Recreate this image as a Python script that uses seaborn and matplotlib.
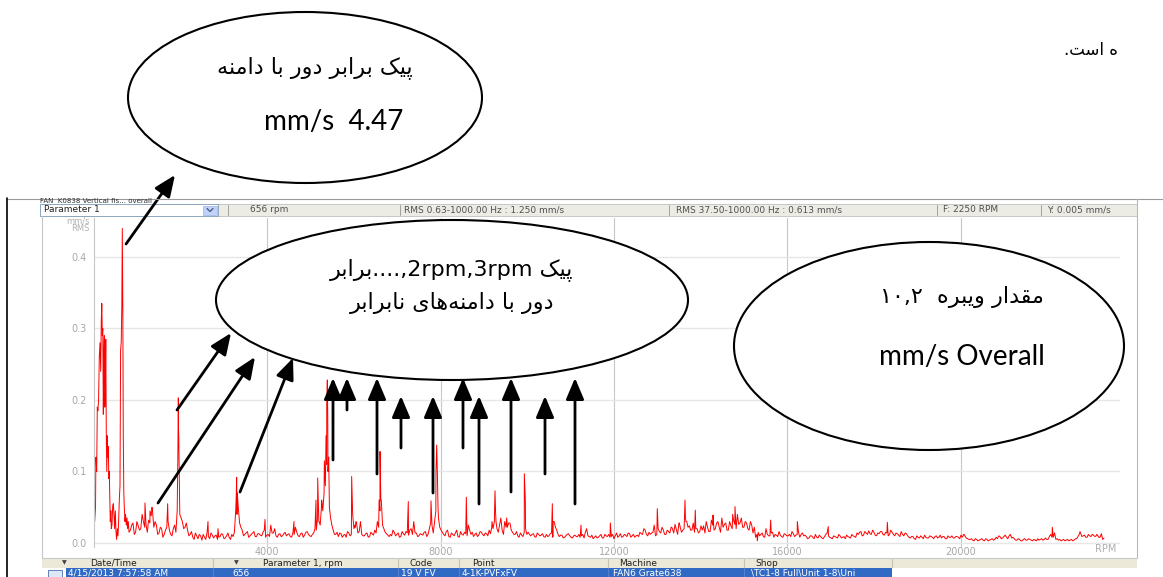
import numpy as np
import pandas as pd
import matplotlib
matplotlib.use("Agg")
import matplotlib.pyplot as plt
from matplotlib.patches import Ellipse, Rectangle, FancyArrowPatch
import seaborn as sns

# --- spectrum data (rpm, mm/s RMS) ---
# first orders, fine detail
low_rpm = [0, 16, 35, 44, 62, 76, 90, 106, 122, 138, 155, 168, 180, 192, 203, 215, 226, 238, 249, 261,
           272, 284, 295, 307, 318, 330, 342, 353, 365, 376, 388, 399, 415, 430, 445, 461, 475, 492, 508, 522,
           538, 554, 568, 584, 600, 614, 628, 642, 653, 665, 676, 688, 699, 715, 729, 745, 762, 775, 791, 808]
low_amp = [0.043, 0.030, 0.050, 0.120, 0.100, 0.190, 0.185, 0.200, 0.260, 0.280,
           0.240, 0.310, 0.335, 0.290, 0.300, 0.180, 0.260, 0.290, 0.190, 0.210,
           0.285, 0.150, 0.100, 0.150, 0.120, 0.135, 0.090, 0.100, 0.060, 0.030,
           0.045, 0.020, 0.025, 0.050, 0.055, 0.040, 0.020, 0.045, 0.015, 0.005,
           0.020, 0.010, 0.030, 0.060, 0.080, 0.270, 0.280, 0.330, 0.440, 0.330,
           0.150, 0.070, 0.050, 0.030, 0.040, 0.025, 0.035, 0.020, 0.030, 0.015]

# noise floor, one value every 60 rpm from 840 rpm (x 0.001 mm/s)
floor_start = 840
floor_step = 60
floor_milli = [
    18, 28, 15, 24, 20, 30, 26, 32, 38, 22, 25, 14, 20, 12, 22, 18, 10, 25, 45, 40,
    30, 22, 18, 12, 8, 14, 6, 10, 12, 5, 9, 14, 7, 11, 8, 13, 6, 10, 8, 12,
    15, 40, 28, 18, 12, 16, 10, 14, 9, 13, 11, 15, 8, 12, 25, 14, 10, 12, 9, 13,
    10, 13, 8, 12, 15, 9, 14, 11, 16, 10, 12, 20, 35, 25, 45, 80, 100, 35, 18, 12,
    9, 13, 11, 8, 14, 12, 20, 28, 16, 12, 10, 14, 9, 13, 18, 30, 45, 25, 15, 11,
    12, 18, 10, 14, 9, 13, 16, 11, 20, 30, 14, 10, 12, 15, 9, 20, 25, 30, 110, 22,
    15, 10, 18, 8, 12, 14, 9, 16, 11, 13, 25, 12, 9, 14, 11, 15, 10, 13, 18, 22,
    30, 20, 25, 18, 30, 22, 28, 15, 12, 10, 14, 9, 20, 15, 10, 13, 8, 12, 11, 9,
    12, 10, 14, 30, 18, 9, 11, 8, 12, 10, 7, 11, 9, 8, 12, 15, 10, 8, 6, 10,
    8, 12, 7, 10, 12, 9, 6, 14, 10, 8, 12, 9, 13, 10, 8, 11, 15, 12, 18, 10,
    12, 15, 10, 20, 14, 18, 12, 16, 22, 14, 19, 28, 15, 20, 30, 24, 18, 15, 20, 16,
    18, 14, 22, 16, 25, 20, 30, 15, 22, 28, 18, 24, 32, 20, 26, 35, 22, 28, 18, 25,
    22, 12, 10, 14, 8, 12, 10, 15, 12, 9, 11, 8, 12, 10, 9, 13, 11, 15, 12, 10,
    9, 7, 10, 6, 8, 11, 7, 9, 14, 8, 6, 9, 7, 10, 8, 6, 9, 7, 10, 8,
    12, 16, 11, 14, 17, 12, 15, 10, 13, 16, 11, 14, 12, 15, 10, 13, 9, 12, 14, 10,
    7, 9, 5, 8, 10, 6, 8, 7, 9, 6, 10, 8, 7, 9, 6, 8, 10, 7, 9, 6,
    8, 10, 6, 5, 4, 6, 3, 5, 4, 6, 3, 5, 4, 8, 10, 6, 9, 8, 10, 7,
    6, 4, 5, 3, 6, 4, 5, 3, 4, 6, 5, 4, 7, 5, 12, 8, 5, 4, 3, 5,
    4, 3, 5, 4, 6, 12, 9, 11, 8, 10, 12, 9, 11, 8, 5,
]
# in-between floor samples, 30 rpm after each of the above (x 0.001 mm/s)
mid_milli = [
    25, 12, 30, 18, 40, 22, 15, 28, 45, 30, 12, 22, 8, 18, 30, 12, 20, 15, 160, 35,
    20, 28, 10, 16, 5, 10, 12, 4, 8, 15, 6, 11, 10, 5, 9, 12, 7, 14, 5, 9,
    45, 50, 22, 10, 14, 8, 12, 16, 9, 13, 10, 18, 11, 9, 14, 20, 8, 13, 10, 15,
    12, 9, 14, 22, 10, 13, 8, 15, 12, 9, 14, 18, 30, 50, 70, 110, 60, 25, 12, 15,
    14, 8, 12, 16, 10, 40, 22, 14, 30, 10, 13, 8, 15, 11, 14, 22, 60, 20, 13, 9,
    10, 15, 12, 8, 16, 11, 14, 18, 12, 14, 9, 13, 11, 16, 12, 28, 14, 45, 35, 18,
    12, 16, 9, 14, 10, 18, 8, 12, 15, 10, 18, 15, 12, 9, 16, 12, 14, 10, 13, 20,
    40, 15, 35, 12, 22, 28, 18, 12, 16, 8, 11, 15, 12, 12, 12, 9, 14, 10, 13, 8,
    9, 13, 8, 22, 12, 11, 7, 10, 13, 8, 10, 9, 12, 10, 7, 20, 9, 11, 8, 7,
    10, 7, 12, 9, 8, 12, 10, 8, 13, 9, 11, 14, 8, 12, 10, 9, 13, 20, 12, 15,
    14, 25, 12, 16, 22, 12, 18, 14, 20, 26, 12, 22, 18, 35, 22, 18, 28, 20, 14, 24,
    24, 30, 16, 32, 18, 28, 22, 35, 26, 18, 30, 20, 26, 40, 28, 22, 30, 20, 30, 14,
    8, 15, 12, 9, 20, 10, 14, 8, 11, 16, 9, 13, 10, 12, 16, 9, 12, 8, 14, 11,
    6, 10, 8, 12, 7, 9, 6, 12, 10, 7, 10, 8, 12, 7, 9, 11, 8, 12, 9, 14,
    15, 10, 16, 12, 13, 18, 11, 14, 16, 12, 15, 10, 18, 12, 14, 11, 16, 10, 13, 8,
    9, 6, 10, 7, 8, 11, 7, 10, 8, 9, 7, 11, 9, 6, 10, 8, 7, 9, 8, 11,
    12, 7, 5, 6, 3, 5, 4, 6, 3, 5, 4, 6, 5, 6, 9, 7, 11, 6, 12, 8,
    4, 6, 3, 5, 4, 6, 4, 5, 3, 4, 6, 5, 5, 9, 8, 14, 6, 5, 4, 3,
    5, 4, 3, 6, 9, 14, 10, 8, 12, 9, 11, 10, 8, 13, 7,
]

# narrow harmonic spikes (rpm, x 0.001 mm/s)
peak_rpm = [1177, 1292, 1339, 1700, 1935, 1946, 1956, 2631, 2862, 3280, 3293, 3308, 3947, 4616,
            5124, 5163, 5195, 5255, 5316, 5355, 5372, 5385, 5395, 5417, 5433,
            5947, 5966, 6024, 6047, 6580, 6601, 6620, 7254, 7778, 7893, 7909, 7924, 7940,
            8593, 9186, 9255, 9278, 9525, 9932, 9955, 10578, 10594, 11240, 11917,
            13001, 13333, 13509, 13640, 13663, 13878, 14286, 14741, 14794, 15310,
            15618, 16232, 16947, 18310, 20080, 22118, 22757, 23142]
peak_milli = [56, 45, 50, 55, 120, 203, 150, 30, 20, 60, 92, 70, 33, 30,
              60, 91, 30, 60, 115, 150, 200, 228, 180, 120, 50,
              93, 50, 25, 30, 60, 128, 60, 58, 59, 100, 137, 100, 50,
              64, 30, 73, 30, 35, 97, 60, 55, 30, 25, 28,
              48, 22, 28, 60, 30, 46, 39, 40, 51, 3,
              32, 30, 23, 29, 12, 22, 16, 12]

x_ticks = [4000, 8000, 12000, 16000, 20000]
y_ticks = [0.0, 0.1, 0.2, 0.3, 0.4]

header_items = ["656 rpm", "RMS 0.63-1000.00 Hz : 1.250 mm/s",
                "RMS 37.50-1000.00 Hz : 0.613 mm/s", "F: 2250 RPM", "Y: 0.005 mm/s"]
table_head = ["Date/Time", "Parameter 1, rpm", "Code", "Point", "Machine", "Shop"]
table_row = ["4/15/2013 7:57:58 AM", "656", "19 V FV", "4-1K-PVFxFV", "FAN6 Grate638",
             "\\TC1-8 Full\\Unit 1-8\\Uni"]

# --- Persian shaping (presentation forms: isolated, final, initial, medial) ---
FORMS = {
    "\u0627": "\ufe8d\ufe8e", "\u062f": "\ufea9\ufeaa", "\u0631": "\ufead\ufeae", "\u0648": "\ufeed\ufeee",
    "\u0628": "\ufe8f\ufe90\ufe91\ufe92", "\u062a": "\ufe95\ufe96\ufe97\ufe98",
    "\u0633": "\ufeb1\ufeb2\ufeb3\ufeb4", "\u0642": "\ufed5\ufed6\ufed7\ufed8",
    "\u0645": "\ufee1\ufee2\ufee3\ufee4", "\u0646": "\ufee5\ufee6\ufee7\ufee8",
    "\u0647": "\ufee9\ufeea\ufeeb\ufeec", "\u067e": "\ufb56\ufb57\ufb58\ufb59",
    "\u06a9": "\ufb8e\ufb8f\ufb90\ufb91", "\u06cc": "\ufbfc\ufbfd\ufbfe\ufbff",
}


def fa(text):
    out = []
    for i, ch in enumerate(text):
        if ch not in FORMS:
            if ch != "\u200c":
                out.append(ch)
            continue
        prev = text[i - 1] if i else ""
        nxt = text[i + 1] if i + 1 < len(text) else ""
        f = FORMS[ch]
        join_prev = prev in FORMS and len(FORMS[prev]) == 4
        join_next = len(f) == 4 and nxt in FORMS
        out.append(f[int(join_prev) + 2 * int(join_next)])
    return "".join(reversed(out))


# --- build spectrum table ---
floor_rpm = floor_start + floor_step * np.arange(len(floor_milli))
mid_rpm = floor_rpm[:len(mid_milli)] + floor_step // 2
spec = pd.DataFrame({
    "rpm": np.concatenate([low_rpm, floor_rpm, mid_rpm, peak_rpm]),
    "amp": np.concatenate([low_amp, np.array(floor_milli) / 1000, np.array(mid_milli) / 1000,
                           np.array(peak_milli) / 1000]),
}).sort_values("rpm")

sns.set_theme(style="white")
plt.rcParams["font.family"] = ["DejaVu Sans"]

W, H = 1163, 577
fig = plt.figure(figsize=(W / 100, H / 100), dpi=100)
fig.patch.set_facecolor("white")

ax = fig.add_axes([94 / W, 1 - 547 / H, (1120 - 94) / W, (547 - 218) / H])
sns.lineplot(data=spec, x="rpm", y="amp", ax=ax, color="#ff0000", lw=0.7,
             estimator=None, sort=False)
ax.set_xlim(0, 23680)
ax.set_ylim(-0.0056, 0.4545)
ax.set_xticks(x_ticks)
ax.set_xticklabels([str(t) for t in x_ticks])
ax.set_yticks(y_ticks)
ax.set_yticklabels([f"{t:.1f}" for t in y_ticks])
ax.set_xlabel("")
ax.set_ylabel("")
ax.tick_params(length=0, labelsize=7, labelcolor="#a8a8a8")
ax.tick_params(axis="y", pad=5)
ax.tick_params(axis="x", pad=0)
ax.xaxis.grid(True, color="#c8c8c8", lw=0.8)
ax.yaxis.grid(True, color="#e6e6e6", lw=1.0)
ax.set_axisbelow(True)
for s in ["top", "right", "bottom"]:
    ax.spines[s].set_visible(False)
ax.spines["left"].set_color("#c8c8c8")
ax.spines["left"].set_linewidth(0.8)

# --- overlay in pixel coordinates: frame, header, table, notes ---
ov = fig.add_axes([0, 0, 1, 1], zorder=3)
ov.set_xlim(0, W)
ov.set_ylim(H, 0)
ov.axis("off")

ov.plot([7, W], [198.5, 198.5], color="#9a9a9a", lw=0.8)
ov.plot([7, 7], [198, H], color="black", lw=1.2)
ov.plot([1137, 1137], [199, 558], color="#b8b8b8", lw=0.8)
ov.plot([42, 42], [216, 558], color="#c8c8c8", lw=0.8)
ov.plot([42, 1137], [557.5, 557.5], color="#c8c8c8", lw=0.8)

ov.text(40, 201, "FAN  K0838 Vertical fis... overall", fontsize=5, color="#303030", va="center")
ov.add_patch(Rectangle((40, 204), 1097, 12, fc="#ecebe4", ec="#c0c0c0", lw=0.6))
ov.add_patch(Rectangle((40, 204), 178, 12, fc="white", ec="#7f9db9", lw=0.6))
ov.add_patch(Rectangle((203, 205.5), 14, 9, fc="#c1d3fb", ec="#9ab0e0", lw=0.5))
ov.plot([207, 210, 213], [208.5, 211.5, 208.5], color="#4d6185", lw=1.0)
ov.text(44, 210, "Parameter 1", fontsize=6.5, color="#202020", va="center")
for x in [228, 400, 669, 937, 1041]:
    ov.plot([x, x], [205, 215], color="#a0a0a0", lw=0.7)
for x, t in zip([250, 404, 676, 943, 1047], header_items):
    ov.text(x, 210, t, fontsize=6.5, color="#505050", va="center")

ov.text(90, 216, "mm/s\nRMS", fontsize=6, color="#b0b0b0", ha="right", va="top",
        linespacing=0.9)
ov.text(1106, 549, "RPM", fontsize=7, color="#b0b0b0", ha="center", va="center")

ov.add_patch(Rectangle((42, 558), 1095, 10, fc="#ece9d8", ec="none"))
ov.add_patch(Rectangle((66, 568), 826, 10, fc="#316ac5", ec="none"))
ov.add_patch(Rectangle((48, 569.5), 14, 7, fc="#dfe8f6", ec="#4a6fb5", lw=0.6))
for x in [213, 398, 459, 608, 744, 892]:
    ov.plot([x, x], [559, 567], color="#c5c2b2", lw=0.8)
for x in [213, 398, 459, 608, 744]:
    ov.plot([x, x], [568, H], color="#5b86d4", lw=0.6)
for x in [62, 234]:
    ov.text(x, 563, "\u25bc", fontsize=4.5, color="#404040", va="center")
for x, t in zip([90, 263, 410, 472, 619, 755], table_head):
    ov.text(x, 563, t, fontsize=6.5, color="#202020", va="center")
for x, t in zip([68, 232, 401, 462, 613, 751], table_row):
    ov.text(x, 573, t, fontsize=6.5, color="white", va="center")

# callout ellipses
for (cx, cy, w, h) in [(305, 97.5, 354, 171), (452, 300, 472, 160), (929, 346, 390, 208)]:
    ov.add_patch(Ellipse((cx, cy), w, h, fc="white", ec="black", lw=1.5))

fa_font = dict(family=["DejaVu Sans"], fontsize=16, color="black", ha="center", va="center")
lat_font = dict(family=["Lato", "DejaVu Sans"], fontsize=20, color="black", ha="center", va="center")
ov.text(1118, 50, "." + fa("\u0647 \u0627\u0633\u062a"), **{**fa_font, "ha": "right", "fontsize": 12})
ov.text(315, 68, fa("\u067e\u06cc\u06a9 \u0628\u0631\u0627\u0628\u0631 \u062f\u0648\u0631 \u0628\u0627 \u062f\u0627\u0645\u0646\u0647"), **fa_font)
ov.text(334, 122, "mm/s  4.47", **lat_font)
ov.text(452, 270, fa("\u0628\u0631\u0627\u0628\u0631") + "....,2rpm,3rpm " + fa("\u067e\u06cc\u06a9"), **fa_font)
ov.text(452, 303, fa("\u062f\u0648\u0631 \u0628\u0627 \u062f\u0627\u0645\u0646\u0647\u200c\u0647\u0627\u06cc \u0646\u0627\u0628\u0631\u0627\u0628\u0631"), **fa_font)
ov.text(962, 297, "\u06f1\u06f0,\u06f2  " + fa("\u0645\u0642\u062f\u0627\u0631 \u0648\u06cc\u0628\u0631\u0647"), **fa_font)
ov.text(962, 357, "mm/s Overall", **lat_font)

# arrows pointing from peaks to the notes
arrow_style = "-|>,head_length=1.3,head_width=0.55"
diag = [(126, 244, 175, 175), (177, 410, 231, 333), (158, 503, 255, 357), (240, 492, 293, 358)]
vx = [333, 347, 377, 401, 433, 463, 479, 511, 545, 575]
vtail = [460, 410, 474, 448, 493, 448, 504, 492, 474, 504]
vhead = [378, 378, 378, 396, 396, 378, 396, 378, 396, 378]
segs = diag + [(x, t, x, h) for x, t, h in zip(vx, vtail, vhead)]
for x0, y0, x1, y1 in segs:
    ov.add_patch(FancyArrowPatch((x0, y0), (x1, y1), arrowstyle=arrow_style, mutation_scale=10,
                                 lw=2.0, color="black", shrinkA=0, shrinkB=0))

fig.savefig("out.png", dpi=100, facecolor="white")
